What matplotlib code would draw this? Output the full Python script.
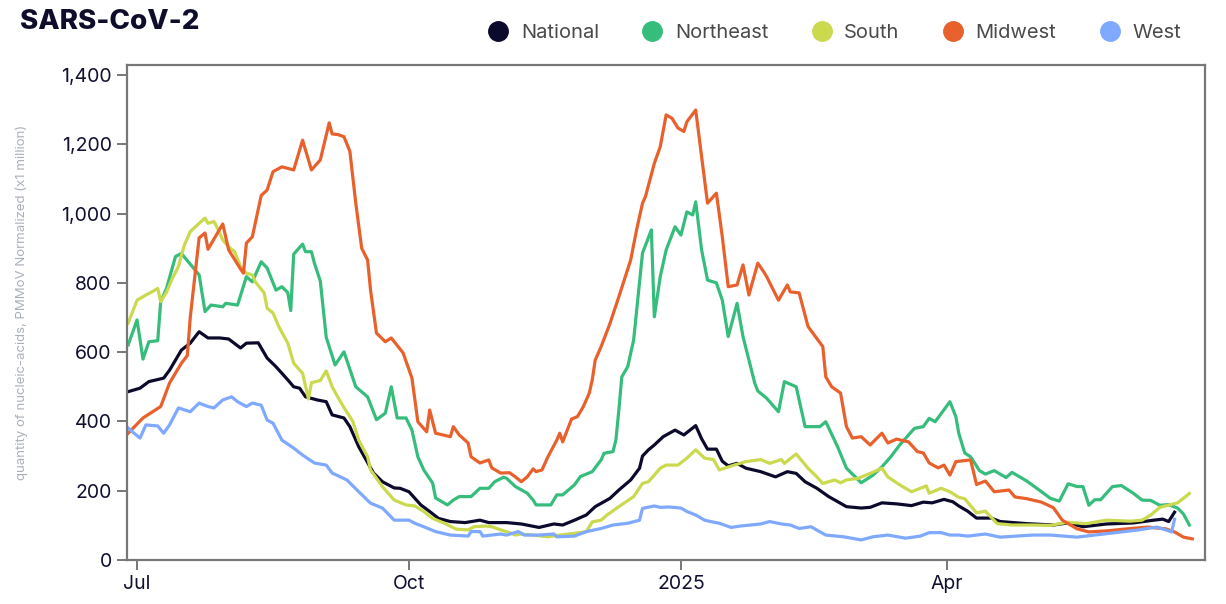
import numpy as np
import pandas as pd
import matplotlib
matplotlib.use('Agg')
import matplotlib.pyplot as plt
from matplotlib.lines import Line2D
from matplotlib.ticker import FuncFormatter

# days counted from 2024-07-01, values in copies (x1 million)
start = pd.Timestamp('2024-07-01')

national_days = [-3, 1, 4, 9, 11, 15, 18, 21, 24, 28, 31, 35, 37, 41, 44, 47, 51, 53, 55, 57,
                 61, 64, 66, 70, 72, 75, 80, 83, 87, 89, 92, 96, 99, 102, 106, 111, 116, 119,
                 125, 130, 136, 141, 144, 148, 152, 155, 160, 163, 167, 170, 171, 173, 175, 177,
                 178, 182, 185, 189, 191, 193, 196, 198, 200, 203, 206, 211, 216, 220, 223, 226,
                 230, 234, 240, 245, 248, 252, 257, 262, 266, 269, 273, 276, 278, 281, 284, 289,
                 292, 301, 310, 315, 320, 328, 337, 344, 347, 349, 351]
national_vals = [486, 496, 515, 525, 548, 606, 626, 659, 641, 641, 638, 612, 626, 627, 583, 558,
                 520, 500, 496, 471, 462, 457, 419, 410, 385, 327, 251, 226, 208, 207, 197, 159,
                 140, 120, 111, 108, 115, 108, 108, 104, 94, 104, 101, 115, 130, 154, 178, 202,
                 231, 265, 300, 318, 332, 348, 356, 375, 361, 388, 350, 320, 320, 285, 272, 279,
                 265, 255, 240, 255, 250, 226, 207, 183, 154, 150, 152, 165, 162, 157, 167, 165,
                 175, 168, 156, 141, 121, 121, 111, 105, 101, 107, 96, 104, 107, 115, 118, 111, 138]

northeast_days = [-3, 0, 2, 4, 7, 8, 10, 13, 15, 21, 23, 25, 29, 30, 34, 37, 39, 42, 44, 47, 49,
                  51, 52, 53, 56, 57, 59, 60, 62, 64, 67, 70, 74, 78, 81, 84, 86, 88, 91, 93, 95,
                  97, 100, 101, 105, 107, 109, 113, 116, 119, 121, 124, 125, 128, 132, 134, 135,
                  140, 142, 144, 148, 150, 154, 157, 158, 161, 162, 163, 164, 166, 168, 171, 174,
                  175, 177, 179, 182, 184, 186, 188, 189, 191, 193, 196, 198, 200, 203, 205, 209,
                  210, 213, 217, 219, 223, 226, 231, 233, 237, 240, 245, 249, 252, 255, 258, 261,
                  263, 266, 268, 270, 275, 277, 278, 280, 282, 285, 287, 290, 294, 296, 301, 306,
                  309, 312, 315, 318, 320, 322, 324, 326, 330, 333, 337, 340, 343, 346, 349, 352,
                  354, 356]
northeast_vals = [621, 693, 580, 630, 633, 746, 785, 876, 885, 823, 717, 736, 731, 741, 736, 818,
                  803, 861, 843, 779, 789, 772, 720, 883, 912, 890, 890, 857, 805, 643, 563, 601,
                  500, 471, 405, 424, 500, 410, 410, 375, 298, 260, 222, 179, 159, 173, 183, 183,
                  207, 207, 226, 239, 236, 212, 193, 173, 159, 159, 188, 188, 217, 241, 255, 289,
                  308, 313, 346, 433, 529, 558, 635, 886, 953, 702, 818, 895, 962, 938, 1005, 996,
                  1034, 895, 808, 800, 750, 645, 741, 645, 510, 488, 467, 428, 515, 500, 385, 385,
                  399, 327, 265, 223, 245, 269, 298, 332, 361, 380, 385, 409, 399, 457, 414, 366,
                  309, 298, 258, 248, 258, 238, 253, 228, 197, 178, 170, 220, 212, 212, 158, 174,
                  174, 212, 215, 193, 173, 172, 158, 160, 150, 133, 101]

south_days = [-3, 0, 3, 5, 7, 8, 10, 12, 14, 16, 18, 21, 23, 24, 26, 27, 29, 31, 33, 35, 37, 39,
              40, 43, 44, 46, 48, 51, 53, 56, 58, 59, 62, 64, 66, 68, 70, 73, 75, 78, 79, 83, 87,
              91, 94, 97, 100, 104, 108, 112, 114, 118, 120, 123, 126, 128, 130, 134, 139, 143,
              148, 152, 154, 157, 159, 163, 168, 171, 173, 175, 177, 179, 183, 186, 189, 192, 195,
              197, 202, 206, 211, 214, 218, 219, 223, 227, 230, 232, 236, 238, 240, 244, 248, 252,
              254, 258, 262, 265, 267, 268, 272, 275, 278, 280, 284, 287, 291, 296, 303, 309, 315,
              321, 328, 336, 340, 343, 346, 352, 354, 356]
south_vals = [684, 750, 765, 774, 784, 746, 774, 814, 847, 909, 948, 972, 987, 972, 977, 962, 924,
              904, 890, 847, 828, 823, 803, 771, 727, 713, 673, 626, 568, 539, 465, 512, 518, 546,
              500, 469, 440, 400, 346, 298, 260, 212, 173, 159, 156, 140, 120, 106, 89, 87, 96, 98,
              96, 87, 79, 72, 75, 72, 67, 72, 77, 82, 110, 115, 130, 154, 183, 221, 226, 245, 265,
              274, 274, 294, 318, 294, 290, 260, 274, 284, 290, 279, 290, 279, 306, 265, 240, 221,
              231, 223, 231, 236, 250, 265, 240, 217, 197, 207, 214, 193, 207, 197, 181, 177, 136,
              141, 105, 101, 101, 100, 109, 105, 115, 112, 115, 130, 152, 165, 178, 192]

midwest_days = [-3, 2, 8, 11, 15, 17, 18, 21, 23, 24, 29, 31, 35, 36, 37, 39, 42, 44, 46, 49, 53,
                56, 59, 62, 65, 66, 68, 70, 72, 74, 76, 78, 79, 81, 84, 86, 90, 93, 95, 98, 99,
                101, 106, 107, 109, 112, 113, 116, 119, 120, 123, 126, 128, 130, 132, 134, 135,
                137, 139, 142, 143, 144, 147, 149, 151, 153, 154, 155, 157, 160, 163, 167, 169,
                171, 172, 175, 177, 179, 181, 183, 185, 186, 189, 191, 193, 196, 198, 200, 203,
                205, 207, 210, 212, 213, 217, 220, 221, 224, 227, 232, 233, 235, 238, 240, 242,
                245, 248, 252, 254, 257, 261, 264, 266, 268, 271, 273, 275, 277, 282, 284, 287,
                290, 295, 297, 301, 306, 310, 313, 318, 322, 328, 335, 342, 348, 351, 354, 357]
midwest_vals = [366, 410, 443, 511, 568, 590, 700, 930, 944, 897, 970, 895, 840, 828, 915, 933,
                1052, 1068, 1121, 1135, 1126, 1212, 1126, 1155, 1262, 1230, 1228, 1222, 1180,
                1030, 900, 866, 779, 655, 630, 641, 598, 525, 399, 370, 433, 366, 356, 385, 361,
                338, 298, 280, 289, 266, 251, 252, 240, 226, 240, 263, 255, 260, 298, 346, 366,
                341, 407, 414, 443, 482, 520, 577, 616, 683, 760, 866, 953, 1030, 1049, 1145,
                1193, 1285, 1275, 1247, 1237, 1265, 1299, 1164, 1030, 1059, 933, 789, 794, 852,
                765, 857, 832, 818, 750, 794, 774, 771, 674, 616, 529, 500, 482, 385, 352, 356,
                332, 366, 338, 349, 341, 313, 309, 280, 266, 274, 245, 284, 289, 218, 228, 197,
                202, 182, 177, 167, 151, 115, 90, 81, 84, 90, 95, 90, 81, 66, 61]

west_days = [-3, -1, 1, 3, 7, 9, 11, 14, 18, 21, 24, 26, 29, 32, 34, 37, 39, 42, 44, 46, 49, 53,
             56, 60, 64, 66, 71, 75, 79, 83, 87, 89, 92, 94, 97, 101, 106, 112, 113, 116, 117,
             123, 125, 129, 131, 136, 141, 142, 148, 152, 157, 161, 166, 170, 171, 175, 177, 180,
             184, 186, 189, 192, 194, 197, 201, 204, 211, 214, 218, 221, 224, 228, 233, 239, 245,
             249, 254, 260, 265, 268, 272, 275, 278, 281, 287, 292, 303, 309, 318, 326, 332, 338,
             345, 348, 350, 351]
west_vals = [381, 366, 352, 390, 387, 366, 390, 439, 428, 453, 443, 439, 462, 471, 457, 443, 453,
             447, 404, 395, 346, 323, 303, 280, 274, 251, 231, 197, 164, 150, 115, 115, 115, 106,
             96, 82, 72, 69, 82, 82, 69, 75, 72, 82, 72, 72, 75, 67, 69, 82, 91, 101, 106, 115,
             149, 156, 152, 153, 150, 140, 130, 115, 111, 106, 94, 98, 104, 111, 104, 101, 91, 96,
             72, 67, 58, 67, 72, 63, 69, 79, 79, 72, 72, 69, 75, 66, 72, 72, 66, 74, 80, 86, 95,
             87, 81, 118]

series = [
    ('National', national_days, national_vals, '#0c0a2c'),
    ('Northeast', northeast_days, northeast_vals, '#36bd7c'),
    ('South', south_days, south_vals, '#cad94e'),
    ('Midwest', midwest_days, midwest_vals, '#e8612c'),
    ('West', west_days, west_vals, '#7fa8ff'),
]

tick_dates = ['2024-07-01', '2024-10-01', '2025-01-01', '2025-04-01']
tick_labels = ['Jul', 'Oct', '2025', 'Apr']
y_ticks = [0, 200, 400, 600, 800, 1000, 1200, 1400]

plt.rcParams['font.family'] = ['Inter', 'DejaVu Sans']

fig = plt.figure(figsize=(12.26, 6.04), dpi=100)
ax = fig.add_axes([127 / 1226, 1 - 560 / 604, (1205 - 127) / 1226, (560 - 65) / 604])

for name, days, vals, color in series:
    x = start + pd.to_timedelta(days, unit='D')
    ax.plot(x, vals, color=color, lw=2.3, label=name, solid_joinstyle='round')

ax.set_xlim(start + pd.Timedelta(days=-3.4), start + pd.Timedelta(days=361.3))
ax.set_ylim(0, 1429)

ax.set_xticks(pd.to_datetime(tick_dates))
ax.set_xticklabels(tick_labels)
ax.set_yticks(y_ticks)
ax.yaxis.set_major_formatter(FuncFormatter(lambda v, p: f'{int(v):,}'))

spine_col = '#777777'
for s in ax.spines.values():
    s.set_color(spine_col)
    s.set_linewidth(1.6)
ax.tick_params(axis='both', colors=spine_col, length=7, width=1.4, direction='out',
               labelsize=14, labelcolor='#111030', pad=4)

ax.set_ylabel('quantity of nucleic-acids, PMMoV Normalized (x1 million)',
              fontsize=9.5, color='#aab0bb')
ax.yaxis.set_label_coords(-0.092, 0.52)

fig.text(20 / 1226, 1 - 22 / 604, 'SARS-CoV-2', fontsize=20, fontweight='heavy',
         color='#0e0d2b', va='center', ha='left')

handles = [Line2D([], [], marker='o', linestyle='', markersize=14, color=c)
           for _, _, _, c in series]
fig.legend(handles, [s[0] for s in series], loc='center right',
           bbox_to_anchor=(1181 / 1226, 1 - 33 / 604), ncol=5, frameon=False,
           fontsize=14.5, labelcolor='#4a4a4a', handlelength=1.0, handletextpad=0.62,
           columnspacing=2.15, borderpad=0, borderaxespad=0)

fig.savefig('out.png', dpi=100)
